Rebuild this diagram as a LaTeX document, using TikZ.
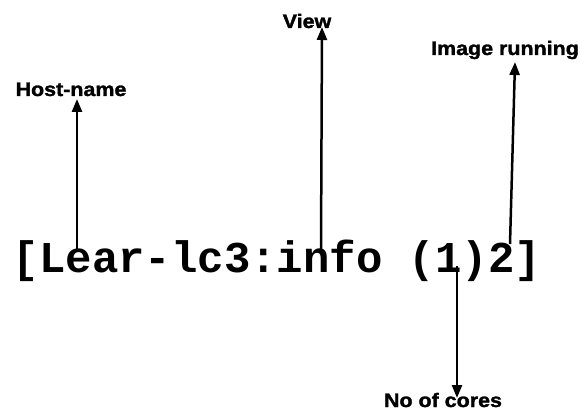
\documentclass[tikz,border=0pt]{standalone}
\usepackage{fontspec}
\usepackage{graphicx}
\usetikzlibrary{arrows.meta}
\setmainfont{Liberation Sans}
\newfontfamily\monob{Liberation Mono}[BoldFont=* Bold]
\newfontfamily\labfont{Liberation Sans}[BoldFont=* Bold, BoldFeatures={FakeBold=1.5}]
\tikzset{
  lab/.style={inner sep=0pt, anchor=base, font=\labfont\bfseries\fontsize{19.5}{20}\selectfont},
  arr/.style={line width=2.5pt, -{Triangle[length=13pt,width=10pt]}},
}
\newcommand{\wide}[1]{\scalebox{1.1}[1]{#1}}
\begin{document}
\begin{tikzpicture}[x=1pt,y=-1pt]
\useasboundingbox[fill=white] (0,0) rectangle (586,419);
\node[inner sep=0pt, anchor=base] (main) at (277,273)
  {\monob\bfseries\fontsize{44}{50}\selectfont [Lear-lc3:info (1)2]};
\node[lab] (host) at (71,96) {\wide{Host-name}};
\node[lab] (view) at (307,28) {\wide{View}};
\node[lab] (img) at (505,55) {\wide{Image running}};
\node[lab] (cores) at (443,407) {\wide{No of cores}};
\coordinate (hostS) at (77,249);
\coordinate (hostT) at (77,99);
\coordinate (viewS) at (321,249);
\coordinate (viewT) at (322,27);
\coordinate (imgS) at (510,244);
\coordinate (imgT) at (515,62);
\coordinate (coresS) at (457,266);
\coordinate (coresT) at (457,398);
\draw[arr] (hostS) -- (hostT);
\draw[arr] (viewS) -- (viewT);
\draw[arr] (imgS) -- (imgT);
\draw[arr] (coresS) -- (coresT);
\end{tikzpicture}
\end{document}
